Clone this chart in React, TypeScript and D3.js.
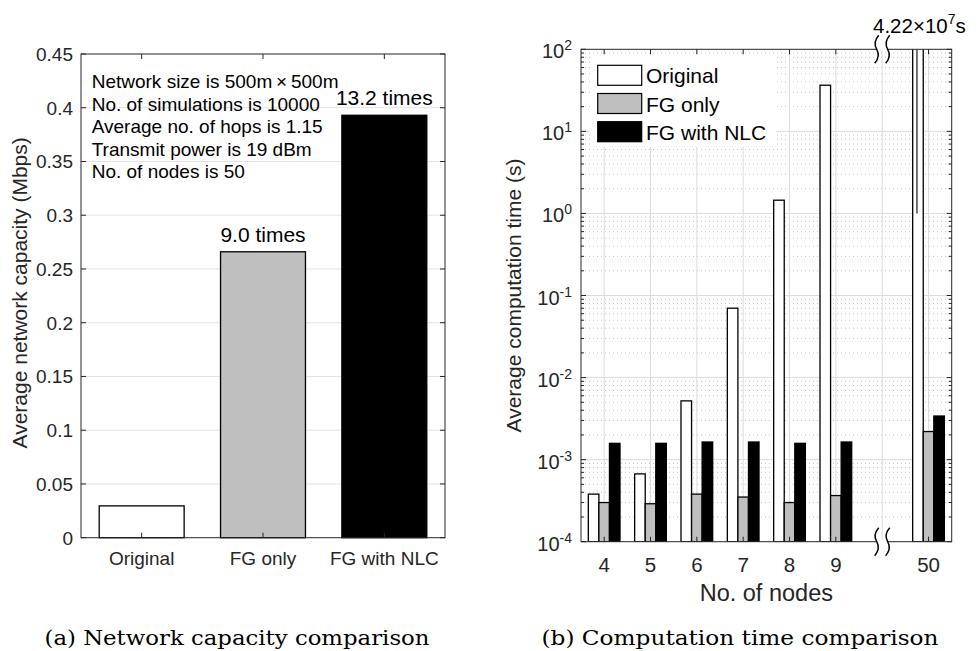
import React from 'react';
import * as d3 from 'd3';

// ---------- Data: (a) network capacity ----------
const capCategories = ['Original', 'FG only', 'FG with NLC'];
const capValues = [0.0296, 0.266, 0.393];
const capFills = ['#ffffff', '#bfbfbf', '#000000'];
const capRatioLabels = ['', '9.0 times', '13.2 times'];
const capTicks = [0, 0.05, 0.1, 0.15, 0.2, 0.25, 0.3, 0.35, 0.4, 0.45];
const capTickLabels = ['0', '0.05', '0.1', '0.15', '0.2', '0.25', '0.3', '0.35', '0.4', '0.45'];
const infoLines = [
  'Network size is 500m\u2009\u00d7\u2009500m',
  'No. of simulations is 10000',
  'Average no. of hops is 1.15',
  'Transmit power is 19 dBm',
  'No. of nodes is 50',
];

// ---------- Data: (b) computation time ----------
const nodeLabels = ['4', '5', '6', '7', '8', '9', '50'];
const nodePositions = [1, 2, 3, 4, 5, 6, 8];
const breakPosition = 7;
const seriesNames = ['Original', 'FG only', 'FG with NLC'];
const originalTime = [3.8e-4, 6.7e-4, 5.2e-3, 0.07, 1.45, 36.5, 4.22e7];
const fgOnlyTime = [3.0e-4, 2.9e-4, 3.8e-4, 3.5e-4, 3.0e-4, 3.65e-4, 2.2e-3];
const fgNlcTime = [1.58e-3, 1.58e-3, 1.64e-3, 1.64e-3, 1.58e-3, 1.64e-3, 3.4e-3];
const timeExponents = [-4, -3, -2, -1, 0, 1, 2];

const AX = '#262626';
const FONT = '"Liberation Sans", Arial, Helvetica, sans-serif';
const SERIF = '"DejaVu Serif", "Liberation Serif", serif';

function breakPath(x: number, y: number) {
  return `M${x + 2},${y - 14} Q${x - 4},${y - 7} ${x},${y} Q${x + 4},${y + 7} ${x - 2},${y + 14}`;
}

export default function App() {
  // ----- Left chart scales -----
  const L = { left: 81, right: 445, top: 54, bottom: 537.7 };
  const xL = d3.scaleLinear().domain([0.5, 3.5]).range([L.left, L.right]);
  const yL = d3.scaleLinear().domain([0, 0.45]).range([L.bottom, L.top]);
  const barWL = xL(0.7) - xL(0);

  // ----- Right chart scales -----
  const R = { left: 581, right: 951.7, top: 49.3, bottom: 541.7 };
  const xR = d3.scaleLinear().domain([0.5, 8.5]).range([R.left, R.right]);
  const yR = d3.scaleLog().domain([1e-4, 1e2]).range([R.bottom, R.top]);
  const bw = 0.228;
  const barWR = xR(bw) - xR(0);
  const series = [originalTime, fgOnlyTime, fgNlcTime];
  const minorVals: number[] = [];
  for (let e = -4; e < 2; e++) for (let m = 2; m <= 9; m++) minorVals.push(m * Math.pow(10, e));
  const xTickPos = [...nodePositions, breakPosition];
  const lastIdx = nodePositions.length - 1;
  const clippedX = xR(nodePositions[lastIdx] - bw);

  return (
    <svg width={980} height={651} style={{ position: 'absolute', left: 0, top: 0, background: '#fff' }}
      fontFamily={FONT}>
      <defs>
        <clipPath id="clipR">
          <rect x={R.left} y={R.top} width={R.right - R.left} height={R.bottom - R.top} />
        </clipPath>
      </defs>
      <rect x={0} y={0} width={980} height={651} fill="#fff" />

      {/* ================= LEFT CHART ================= */}
      {capTicks.slice(1, -1).map((t) => (
        <line key={'gl' + t} x1={L.left} x2={L.right} y1={yL(t)} y2={yL(t)} stroke="#e3e3e3" strokeWidth={1} />
      ))}
      {capValues.map((v, i) => (
        <rect key={'cb' + i} x={xL(i + 1) - barWL / 2} y={yL(v)} width={barWL} height={yL(0) - yL(v)}
          fill={capFills[i]} stroke="#000" strokeWidth={1.3} />
      ))}
      <rect x={L.left} y={L.top} width={L.right - L.left} height={L.bottom - L.top} fill="none" stroke={AX} strokeWidth={1} />
      {capTicks.map((t) => (
        <g key={'lt' + t}>
          <line x1={L.left} x2={L.left + 5} y1={yL(t)} y2={yL(t)} stroke={AX} />
          <line x1={L.right - 5} x2={L.right} y1={yL(t)} y2={yL(t)} stroke={AX} />
        </g>
      ))}
      {capTicks.map((t, i) => (
        <text key={'ltl' + t} x={L.left - 8} y={yL(t) + 7} textAnchor="end" fontSize={19} fill={AX}>{capTickLabels[i]}</text>
      ))}
      {capCategories.map((c, i) => (
        <g key={'lc' + c}>
          <line x1={xL(i + 1)} x2={xL(i + 1)} y1={L.bottom} y2={L.bottom - 5} stroke={AX} />
          <line x1={xL(i + 1)} x2={xL(i + 1)} y1={L.top} y2={L.top + 5} stroke={AX} />
          <text x={xL(i + 1)} y={L.bottom + 27} textAnchor="middle" fontSize={19} fill={AX}>{c}</text>
        </g>
      ))}
      {capRatioLabels.map((s, i) => s ? (
        <text key={'rl' + i} x={xL(i + 1)} y={yL(capValues[i]) - 10} textAnchor="middle" fontSize={21} fill="#000">{s}</text>
      ) : null)}
      {infoLines.map((s, i) => (
        <text key={'il' + i} x={91.7} y={88.3 + i * 22.4} fontSize={19} fill="#000">{s}</text>
      ))}
      <text transform={`translate(27,${(L.top + L.bottom) / 2 - 3}) rotate(-90)`} textAnchor="middle" fontSize={21} fill={AX}>
        Average network capacity (Mbps)
      </text>
      <text x={237} y={645} textAnchor="middle" fontSize={19.5} fontFamily={SERIF} fill="#000" textLength={385} lengthAdjust="spacingAndGlyphs">
        (a) Network capacity comparison
      </text>

      {/* ================= RIGHT CHART ================= */}
      {minorVals.map((v) => (
        <line key={'mg' + v} x1={R.left} x2={R.right} y1={yR(v)} y2={yR(v)} stroke="#c4c4c4" strokeWidth={1} strokeDasharray="1 3" />
      ))}
      {timeExponents.slice(1, -1).map((e) => (
        <line key={'Mg' + e} x1={R.left} x2={R.right} y1={yR(Math.pow(10, e))} y2={yR(Math.pow(10, e))} stroke="#dcdcdc" strokeWidth={1} />
      ))}
      {xTickPos.map((p) => (
        <line key={'vg' + p} x1={xR(p)} x2={xR(p)} y1={R.top} y2={R.bottom} stroke="#dcdcdc" strokeWidth={1} />
      ))}
      <g clipPath="url(#clipR)">
        {series.map((arr, s) => arr.map((v, i) => {
          const cx = xR(nodePositions[i] + (s - 1) * bw);
          const top = Math.max(yR(v), R.top - 10);
          return (
            <rect key={'tb' + s + '-' + i} x={cx - barWR / 2} y={top} width={barWR} height={R.bottom - top}
              fill={capFills[s]} stroke="#000" strokeWidth={1.3} />
          );
        }))}
        <line x1={clippedX - 1} x2={clippedX - 1} y1={R.top} y2={yR(1)} stroke="#000" strokeWidth={1.1} />
      </g>
      {/* legend */}
      <rect x={590} y={54} width={186} height={93} fill="#fff" />
      {seriesNames.map((n, i) => (
        <g key={'lg' + n}>
          <rect x={597.7} y={65.3 + i * 28.2} width={44} height={20} fill={capFills[i]} stroke="#000" strokeWidth={1.2} />
          <text x={646} y={83.3 + i * 28.2} fontSize={21} fill="#000">{n}</text>
        </g>
      ))}
      <rect x={R.left} y={R.top} width={R.right - R.left} height={R.bottom - R.top} fill="none" stroke={AX} strokeWidth={1} />
      {timeExponents.map((e) => {
        const y = yR(Math.pow(10, e));
        return (
          <g key={'rt' + e}>
            <line x1={R.left} x2={R.left + 5} y1={y} y2={y} stroke={AX} />
            <line x1={R.right - 5} x2={R.right} y1={y} y2={y} stroke={AX} />
            <text x={R.left - 9} y={y + 9} textAnchor="end" fontSize={20} fill={AX}>
              10<tspan dy={-8} fontSize={14}>{String(e)}</tspan>
            </text>
          </g>
        );
      })}
      {minorVals.map((v) => (
        <g key={'mt' + v}>
          <line x1={R.left} x2={R.left + 3} y1={yR(v)} y2={yR(v)} stroke={AX} />
          <line x1={R.right - 3} x2={R.right} y1={yR(v)} y2={yR(v)} stroke={AX} />
        </g>
      ))}
      {nodePositions.map((p, i) => (
        <g key={'xt' + p}>
          <line x1={xR(p)} x2={xR(p)} y1={R.bottom} y2={R.bottom - 5} stroke={AX} />
          <line x1={xR(p)} x2={xR(p)} y1={R.top} y2={R.top + 5} stroke={AX} />
          <text x={xR(p)} y={R.bottom + 30} textAnchor="middle" fontSize={20.5} fill={AX}>{nodeLabels[i]}</text>
        </g>
      ))}
      {/* axis breaks */}
      {[R.top, R.bottom].map((yy) => (
        <g key={'br' + yy}>
          <rect x={xR(breakPosition) - 5} y={yy - 2} width={10} height={4} fill="#fff" />
          <path d={breakPath(xR(breakPosition) - 5.5, yy)} fill="none" stroke="#000" strokeWidth={1.5} />
          <path d={breakPath(xR(breakPosition) + 5.5, yy)} fill="none" stroke="#000" strokeWidth={1.5} />
        </g>
      ))}
      <text x={873} y={33.3} fontSize={20.5} fill="#000">
        4.22{'\u00d7'}10<tspan dy={-9} fontSize={14}>7</tspan><tspan dy={9} fontSize={20.5}>s</tspan>
      </text>
      <text x={(R.left + R.right) / 2} y={600.5} textAnchor="middle" fontSize={23.5} fill={AX}>No. of nodes</text>
      <text transform={`translate(521,${(R.top + R.bottom) / 2}) rotate(-90)`} textAnchor="middle" fontSize={21} fill={AX}>
        Average computation time (s)
      </text>
      <text x={740} y={645} textAnchor="middle" fontSize={19.5} fontFamily={SERIF} fill="#000" textLength={397} lengthAdjust="spacingAndGlyphs">
        (b) Computation time comparison
      </text>
    </svg>
  );
}
